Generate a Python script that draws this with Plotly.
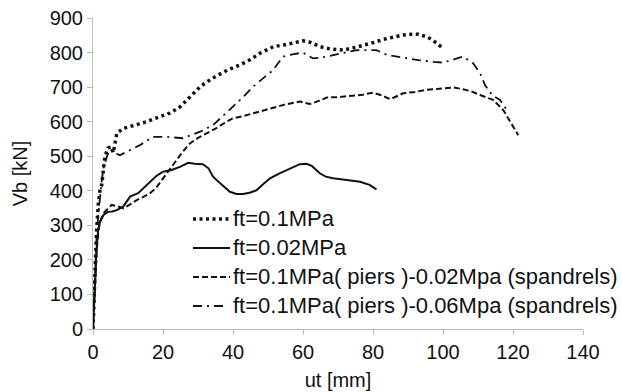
import plotly.graph_objects as go

# ft=0.1MPa (dotted)
x_a = [0, 0.5, 1, 1.5, 2, 2.5, 3.4, 4.3, 5.3, 5.8, 6.8, 8.5, 10.6, 13, 15.3, 18, 22, 24.9, 27.5, 30.6, 34, 38.3, 42, 45,
       47.7, 51.5, 54.5, 57.2, 60, 62, 64.9, 68, 71.5, 75, 78, 80.5, 82.9, 86, 88.7, 91, 93, 95.5, 97.3, 100.1]
y_a = [0, 150, 280, 360, 402, 417, 499, 524, 527, 510, 566, 580, 587, 593, 600, 610, 625, 643, 670, 701, 725, 749, 764, 780,
       798, 817, 822, 827, 834, 830, 817, 810, 807, 815, 822, 830, 838, 845, 851, 853, 853, 845, 834, 812]

# ft=0.02MPa (solid)
x_b = [0, 0.5, 1, 1.5, 2, 3, 4.3, 5.5, 6.8, 8.6, 10.6, 12.9, 14.5, 16.3, 18, 20, 22.5, 25, 27.2, 29, 31.4, 33, 34.3, 36.5,
       39.1, 41, 42.9, 45, 46.8, 48.5, 50.6, 53, 55.3, 57, 59.1, 61, 62.5, 64.9, 66.5, 68.6, 72, 76.3, 79, 81]
y_b = [0, 130, 230, 290, 310, 330, 339, 340, 344, 354, 383, 393, 408, 426, 442, 455, 460, 470, 481, 478, 477, 465, 441, 420,
       397, 391, 391, 395, 402, 418, 436, 449, 460, 468, 477, 478, 472, 450, 441, 436, 431, 426, 417, 404]

# ft=0.1MPa(piers)-0.02MPa(spandrels) (dashed)
x_c = [0, 0.5, 1, 1.5, 2, 3, 4, 5.3, 7, 8.7, 10.5, 12.5, 14.5, 16.3, 18, 19.6, 21.5, 23.9, 25.8, 27.7, 30, 32.5, 35, 38.2,
       40, 42.5, 45.7, 48.5, 51.4, 55, 59.1, 62, 64.5, 66.8, 70, 73.4, 77, 80, 82.5, 84.9, 86.5, 88.6, 92, 95.3, 99, 102.9,
       105.7, 108, 110.6, 114.3, 117.2, 119.6, 121.5]
y_c = [0, 120, 220, 280, 310, 335, 345, 359, 355, 349, 360, 373, 383, 393, 408, 431, 458, 489, 515, 537, 553, 566, 580, 600,
       610, 615, 624, 633, 641, 650, 658, 651, 660, 670, 671, 674, 678, 684, 676, 665, 672, 682, 686, 692, 695, 699,
       694, 688, 677, 663, 634, 595, 561]

# ft=0.1MPa(piers)-0.06MPa(spandrels) (dash-dot)
x_d = [0, 0.5, 1, 1.5, 2, 2.5, 3, 4, 4.9, 6, 7.7, 10.5, 13.4, 17.1, 21, 25.7, 28, 30.6, 34.3, 37, 40, 43, 45.7, 48.5, 51.4,
       54.3, 57, 60, 62.9, 65, 68.6, 72, 75.4, 78, 81, 84, 89.7, 93, 97.3, 100, 104, 105.7, 108.6, 110.6, 112, 114, 116.3, 118.2]
y_d = [0, 140, 260, 330, 390, 430, 465, 500, 520, 510, 503, 518, 532, 556, 556, 552, 560, 571, 590, 615, 643, 672, 701, 725, 749,
       788, 795, 800, 783, 785, 793, 800, 807, 807, 807, 793, 783, 778, 773, 771, 783, 788, 769, 740, 706, 677, 663, 634]

names = ["ft=0.1MPa", "ft=0.02MPa",
         "ft=0.1MPa( piers )-0.02Mpa (spandrels)",
         "ft=0.1MPa( piers )-0.06Mpa (spandrels)"]

FONT = "Liberation Sans, Arial"
styles = [dict(color="#111", width=3.5, dash="3px,3.5px"),
          dict(color="#111", width=2),
          dict(color="#111", width=2, dash="6px,3px"),
          dict(color="#111", width=1.8, dash="9px,5px,2px,5px")]

fig = go.Figure()
for xs, ys, nm, st in zip([x_a, x_b, x_c, x_d], [y_a, y_b, y_c, y_d], names, styles):
    fig.add_trace(go.Scatter(x=xs, y=ys, mode="lines", name=nm, line=st, showlegend=False))

# manual legend (placed in plot-area fractions)
ML, MT, PW, PH = 93, 18, 490, 311
def px_x(px):
    return (px - ML) / PW
def px_y(py):
    return 1 - (py - MT) / PH

row_y = [219, 248, 277, 306]
sample_end = [230, 230, 230, 226]
for ry, nm, st, se in zip(row_y, names, styles, sample_end):
    fig.add_shape(type="line", xref="paper", yref="paper",
                  x0=px_x(193), x1=px_x(se), y0=px_y(ry), y1=px_y(ry), line=st)
    fig.add_annotation(xref="paper", yref="paper", x=px_x(231), y=px_y(ry - 1),
                       xanchor="left", yanchor="middle", showarrow=False, text=nm,
                       font=dict(family=FONT, size=22, color="#111"))

axis_common = dict(showgrid=False, zeroline=False, showline=True, linecolor="#bbb", linewidth=1,
                   ticks="outside", tickcolor="#bbb", ticklen=5, automargin=False,
                   tickfont=dict(family=FONT, size=20, color="#111"))

fig.update_layout(
    width=622, height=392,
    margin=dict(l=ML, r=622 - ML - PW, t=MT, b=392 - MT - PH),
    paper_bgcolor="white", plot_bgcolor="white",
    showlegend=False,
    xaxis=dict(range=[0, 140], dtick=20, title=dict(text="ut [mm]", standoff=10,
               font=dict(family=FONT, size=20, color="#111")), **axis_common),
    yaxis=dict(range=[0, 900], dtick=100, title=dict(text="Vb [kN]", standoff=16,
               font=dict(family=FONT, size=20, color="#111")), **axis_common),
)

fig.write_html("out.html")
